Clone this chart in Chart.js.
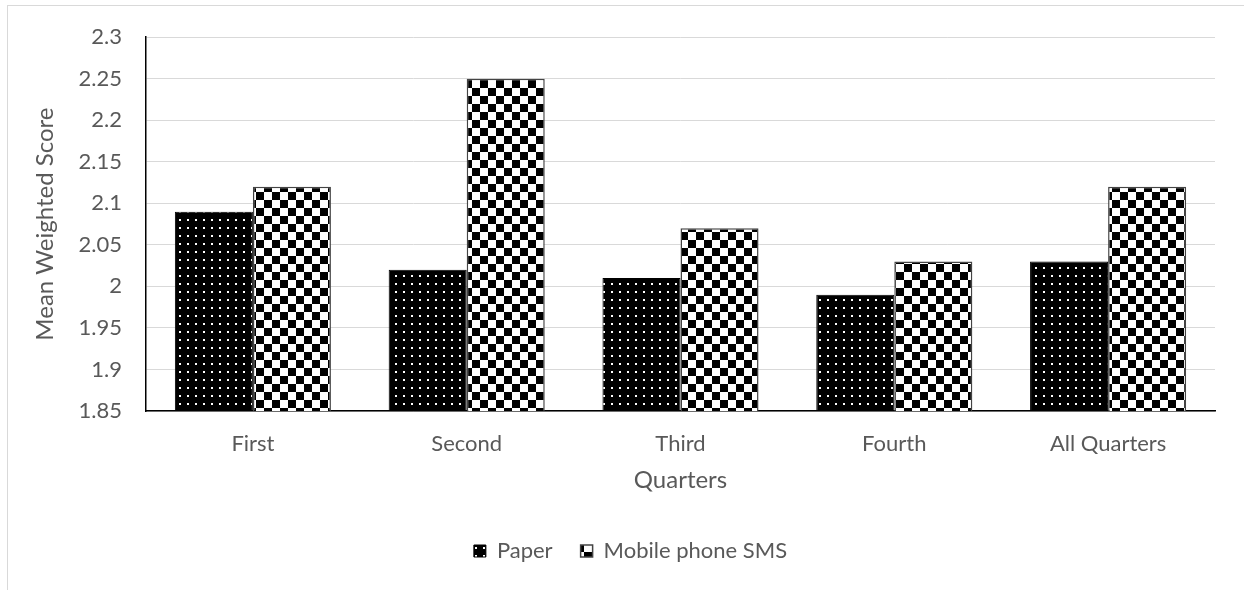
<!DOCTYPE html>
<html>
<head>
<meta charset="utf-8">
<script src="https://cdn.jsdelivr.net/npm/chart.js@4.4.1/dist/chart.umd.min.js"></script>
<style>
html,body{margin:0;padding:0;background:#fff;}
#wrap{width:1244px;height:590px;position:relative;}
</style>
</head>
<body>
<div id="wrap"><canvas id="chartQuarters" width="1244" height="590"></canvas></div>
<script>

/* DONNEES */

const quarters = ["First","Second","Third","Fourth","All Quarters"];
const paperScores = [2.09,2.02,2.01,1.99,2.03];
const smsScores = [2.12,2.25,2.07,2.03,2.12];
const seriesNames = ["Paper","Mobile phone SMS"];

const TXT = "#595959";
const FONT = "Lato";

/* MOTIFS */

function dotPattern(){
let c=document.createElement("canvas");
c.width=8;c.height=8;
let g=c.getContext("2d");
g.fillStyle="#000";g.fillRect(0,0,8,8);
g.fillStyle="#fff";g.fillRect(3,3,2,2);
return g.createPattern(c,"repeat");
}

function checkPattern(){
let c=document.createElement("canvas");
c.width=16;c.height=16;
let g=c.getContext("2d");
g.fillStyle="#fff";g.fillRect(0,0,16,16);
g.fillStyle="#000";
g.fillRect(0,0,8,8);
g.fillRect(8,8,8,8);
return g.createPattern(c,"repeat");
}

const dots = dotPattern();
const checks = checkPattern();

/* CADRE */

const frame = {
id:"frame",
beforeDraw(chart){
let ctx=chart.ctx;
ctx.save();
ctx.fillStyle="#fff";
ctx.fillRect(0,0,chart.width,chart.height);
ctx.strokeStyle="#d9d9d9";
ctx.lineWidth=1;
ctx.strokeRect(7.5,5.5,1260,600);
ctx.restore();
}
};

/* GRAPH */

new Chart(document.getElementById("chartQuarters"),{

type:"bar",

data:{
labels:quarters,
datasets:[
{label:seriesNames[0],data:paperScores,backgroundColor:dots,borderColor:"#000",borderWidth:1},
{label:seriesNames[1],data:smsScores,backgroundColor:checks,borderColor:"#444",borderWidth:1.5}
]
},

options:{
responsive:false,
animation:false,
layout:{padding:{top:35,right:29,bottom:18,left:46}},
datasets:{bar:{categoryPercentage:0.73,barPercentage:1}},

plugins:{
tooltip:{enabled:false},
legend:{
position:"bottom",
labels:{
color:TXT,
font:{family:FONT,size:22},
boxWidth:12,
boxHeight:12,
padding:28
}
}
},

scales:{
x:{
grid:{display:false,drawTicks:false},
border:{color:"#000",width:1.5},
ticks:{color:TXT,font:{family:FONT,size:22},padding:20},
title:{display:true,text:"Quarters",color:TXT,font:{family:FONT,size:24},padding:{top:4,bottom:17}},
afterFit(s){s.height=101;}
},
y:{
min:1.85,
max:2.3,
grid:{color:"#d9d9d9",lineWidth:1,drawTicks:false},
border:{color:"#000",width:1.5},
ticks:{
stepSize:0.05,
color:TXT,
font:{family:FONT,size:22},
padding:24,
callback:v=>String(Math.round(v*100)/100)
},
title:{display:true,text:"Mean Weighted Score",color:TXT,font:{family:FONT,size:24},padding:{top:-15,bottom:0}},
afterFit(s){s.width=100;}
}
}

},

plugins:[frame]

});

</script>
</body>
</html>
